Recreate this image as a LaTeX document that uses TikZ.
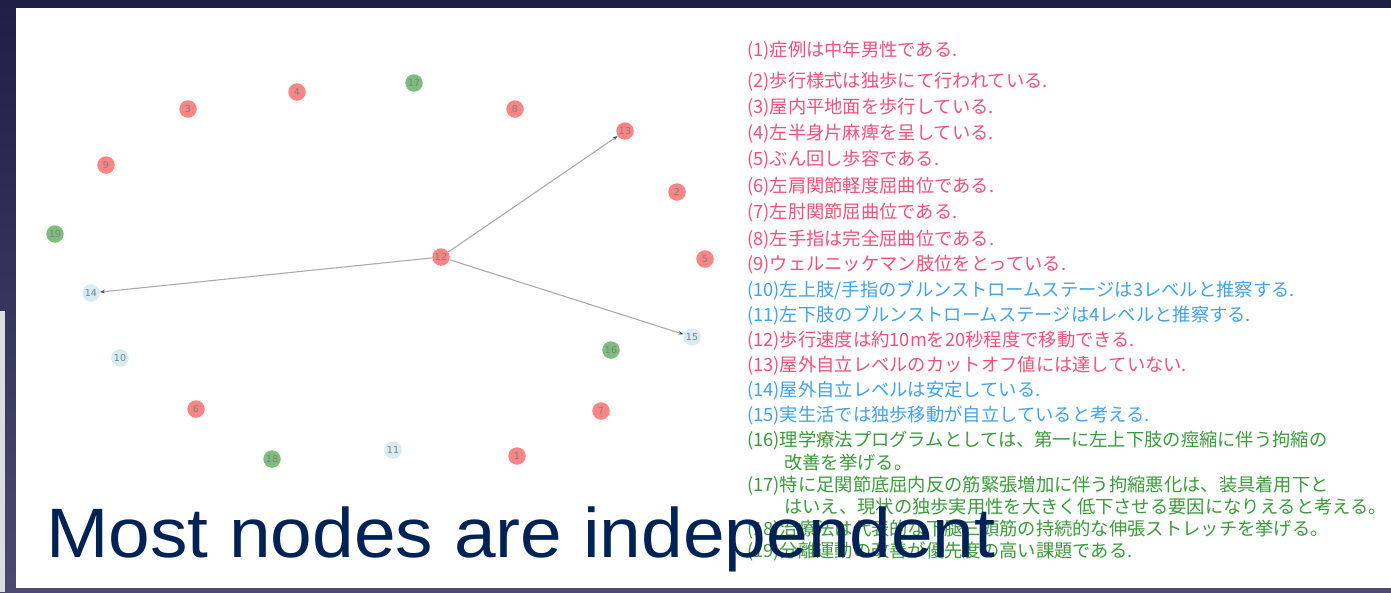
\documentclass[tikz,border=0pt]{standalone}
\usepackage{fontspec}
\setmainfont{Liberation Sans}
\newfontfamily\jp{Noto Sans CJK JP}
\newfontfamily\lab{DejaVu Sans}
\usetikzlibrary{arrows.meta}
\definecolor{bgtop}{HTML}{1E1E46}
\definecolor{bgbot}{HTML}{4C4A70}
\definecolor{strip}{HTML}{DCDCE4}
\definecolor{nred}{HTML}{FA8585}
\definecolor{ngreen}{HTML}{7DBE7D}
\definecolor{nblue}{HTML}{D6EBF3}
\definecolor{tred}{HTML}{F4517A}
\definecolor{tblue}{HTML}{41A3EE}
\definecolor{tgreen}{HTML}{3A9C3A}
\definecolor{navy}{HTML}{002255}
\definecolor{edgec}{HTML}{ABABAB}
\tikzset{
  gnode/.style={circle, minimum size=17.5pt, inner sep=0pt, text=black!50,
    font=\lab\fontsize{9.5}{11}\selectfont},
  rn/.style={gnode, fill=nred},
  gn/.style={gnode, fill=ngreen},
  bn/.style={gnode, fill=nblue},
  edge/.style={draw=edgec, line width=1.1pt,
    -{Stealth[length=5pt,width=3.6pt,color=black!70]}},
  line/.style={anchor=west, inner sep=0pt, text height=0.88em, text depth=0.12em,
    yshift=-3.5pt, font=\jp\fontsize{18.3}{22}\selectfont},
  lr/.style={line, text=tred},
  lb/.style={line, text=tblue},
  lg/.style={line, text=tgreen},
  bigtext/.style={anchor=base west, inner sep=0pt, text=navy,
    font=\fontsize{70}{80}\selectfont}
}
\begin{document}
\begin{tikzpicture}[x=1pt,y=-1pt]
\useasboundingbox (0,0) rectangle (1391,592);
\shade[top color=bgtop, bottom color=bgbot] (0,0) rectangle (1391,592);
\fill[strip] (0,311) rectangle (4.5,592);
\fill[white] (16,8) rectangle (1391,588);

% graph nodes
\node[rn] (n1) at (517,456) {1};
\node[rn] (n2) at (677,192) {2};
\node[rn] (n3) at (188,109) {3};
\node[rn] (n4) at (297,92) {4};
\node[rn] (n5) at (705,259) {5};
\node[rn] (n6) at (196,409) {6};
\node[rn] (n7) at (601,411) {7};
\node[rn] (n8) at (515,109) {8};
\node[rn] (n9) at (106,165) {9};
\node[bn] (n10) at (120,358) {10};
\node[bn] (n11) at (393,450) {11};
\node[rn] (n12) at (441,257) {12};
\node[rn] (n13) at (625,131) {13};
\node[bn] (n14) at (91,293) {14};
\node[bn] (n15) at (692,337) {15};
\node[gn] (n16) at (611,350) {16};
\node[gn] (n17) at (414,83) {17};
\node[gn] (n18) at (272,459) {18};
\node[gn] (n19) at (55,234) {19};

\draw[edge] (n12) -- (n14);
\draw[edge] (n12) -- (n13);
\draw[edge] (n12) -- (n15);

% statements
\node[lr] (t1) at (747,49) {(1)症例は中年男性である.};
\node[lr] (t2) at (747,80) {(2)歩行様式は独歩にて行われている.};
\node[lr] (t3) at (747,106) {(3)屋内平地面を歩行している.};
\node[lr] (t4) at (747,132) {(4)左半身片麻痺を呈している.};
\node[lr] (t5) at (747,158) {(5)ぶん回し歩容である.};
\node[lr] (t6) at (747,185) {(6)左肩関節軽度屈曲位である.};
\node[lr] (t7) at (747,211) {(7)左肘関節屈曲位である.};
\node[lr] (t8) at (747,238) {(8)左手指は完全屈曲位である.};
\node[lr] (t9) at (747,263) {(9)ウェルニッケマン肢位をとっている.};
\node[lb] (t10) at (747,289) {(10)左上肢/手指のブルンストロームステージは3レベルと推察する.};
\node[lb] (t11) at (747,314) {(11)左下肢のブルンストロームステージは4レベルと推察する.};
\node[lr] (t12) at (747,339) {(12)歩行速度は約10mを20秒程度で移動できる.};
\node[lr] (t13) at (747,364) {(13)屋外自立レベルのカットオフ値には達していない.};
\node[lb] (t14) at (747,389) {(14)屋外自立レベルは安定している.};
\node[lb] (t15) at (747,414) {(15)実生活では独歩移動が自立していると考える.};
\node[lg] (t16) at (747,439) {(16)理学療法プログラムとしては、第一に左上下肢の痙縮に伴う拘縮の};
\node[lg] (t16b) at (784,462) {改善を挙げる。};
\node[lg] (t17) at (747,484) {(17)特に足関節底屈内反の筋緊張増加に伴う拘縮悪化は、装具着用下と};
\node[lg] (t17b) at (784,506) {はいえ、現状の独歩実用性を大きく低下させる要因になりえると考える。};
\node[lg] (t18) at (747,528) {(18)治療法は代表的な下腿三頭筋の持続的な伸張ストレッチを挙げる。};
\node[lg] (t19) at (747,550) {(19)分離運動の改善が優先度の高い課題である.};

\node[bigtext] (title) at (46,557) {\scalebox{1.07}[1]{Most nodes are independent}};
\end{tikzpicture}
\end{document}
